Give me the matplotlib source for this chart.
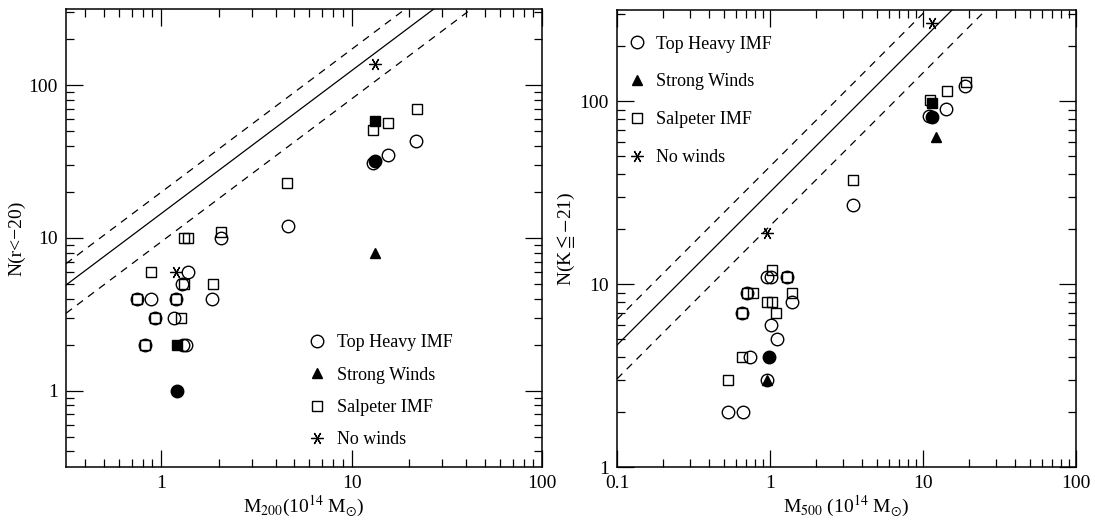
import numpy as np
import matplotlib
matplotlib.use("Agg")
import matplotlib.pyplot as plt
from matplotlib.lines import Line2D
from matplotlib.ticker import FixedLocator, FuncFormatter, LogLocator, NullFormatter

plt.rcParams['font.family'] = ['Liberation Serif', 'DejaVu Serif', 'DejaVu Sans']
plt.rcParams['mathtext.fontset'] = 'stix'

# ---------------- Left panel data: M200 vs N(r<-20) ----------------
L_top_x = [0.75, 0.82, 0.88, 0.93, 1.17, 1.19, 1.28, 1.30, 1.35, 1.39, 1.84, 2.06, 4.65, 13.0, 15.5, 21.8]
L_top_y = [4, 2, 4, 3, 3, 4, 5, 2, 2, 6, 4, 10, 12, 31, 35, 43]
L_salp_x = [0.75, 0.82, 0.88, 0.93, 1.19, 1.27, 1.32, 1.31, 1.39, 1.86, 2.06, 4.6, 13.0, 15.6, 22.0]
L_salp_y = [4, 2, 6, 3, 4, 3, 5, 10, 10, 5, 11, 23, 51, 57, 70]
L_wind_x = [13.3]
L_wind_y = [8]
L_nowind_x = [1.19, 13.3]
L_nowind_y = [6, 138]
L_fcirc_x = [1.21, 13.3]
L_fcirc_y = [1, 32]
L_fsq_x = [1.21, 13.3]
L_fsq_y = [2, 58]

# relation lines (log N = a + b log M), dashed offsets in dex
L_line_a, L_line_b = 1.16, 0.936
R_line_a, R_line_b = 1.504, 0.837
dash_hi, dash_lo = 0.14, -0.185

# ---------------- Right panel data: M500 vs N(K<=-21) ----------------
R_top_x = [0.533, 0.669, 0.740, 0.960, 1.106, 1.01, 0.659, 0.704, 1.386, 0.960, 1.01, 1.285, 3.5, 11.0, 14.1, 18.9]
R_top_y = [2, 2, 4, 3, 5, 6, 7, 9, 8, 11, 11, 11, 27, 83, 91, 121]
R_salp_x = [0.533, 0.659, 0.659, 0.704, 0.771, 0.960, 1.026, 1.095, 1.035, 1.285, 1.386, 3.5, 11.1, 14.3, 19.1]
R_salp_y = [3, 4, 7, 9, 9, 8, 8, 7, 12, 11, 9, 37, 102, 114, 128]
R_wind_x = [0.960, 12.1]
R_wind_y = [3, 64]
R_nowind_x = [0.960, 11.4]
R_nowind_y = [19, 270]
R_fcirc_x = [0.989, 11.5]
R_fcirc_y = [4, 82.5]
R_fsq_x = [11.5]
R_fsq_y = [97.6]

legend_labels = ['Top Heavy IMF', 'Strong Winds', 'Salpeter IMF', 'No winds']

FS = 14
star = (6, 2, 90)

fig = plt.figure(figsize=(10.95, 5.22), dpi=100)
axL = fig.add_axes([66/1095, 55/522, 476/1095, 458/522])
axR = fig.add_axes([617/1095, 55/522, 459/1095, 457/522])


def style_axis(ax, xlim, ylim, xticks, yticks):
    ax.set_xscale('log')
    ax.set_yscale('log')
    ax.set_xlim(*xlim)
    ax.set_ylim(*ylim)
    ax.xaxis.set_major_locator(FixedLocator(xticks))
    ax.yaxis.set_major_locator(FixedLocator(yticks))
    ax.xaxis.set_minor_locator(LogLocator(base=10, subs=np.arange(2, 10)))
    ax.yaxis.set_minor_locator(LogLocator(base=10, subs=np.arange(2, 10)))
    fmt = FuncFormatter(lambda v, p: '%g' % v)
    ax.xaxis.set_major_formatter(fmt)
    ax.yaxis.set_major_formatter(fmt)
    ax.xaxis.set_minor_formatter(NullFormatter())
    ax.yaxis.set_minor_formatter(NullFormatter())
    ax.tick_params(which='both', direction='in', top=True, right=True, width=0.9,
                   labelsize=FS, pad=6)
    ax.tick_params(which='major', length=12)
    ax.tick_params(which='minor', length=6)
    for s in ax.spines.values():
        s.set_linewidth(1.1)


def draw_lines(ax, a, b, xlim):
    xx = np.logspace(np.log10(xlim[0]), np.log10(xlim[1]), 50)
    base = a + b * np.log10(xx)
    ax.plot(xx, 10**base, color='black', lw=0.9)
    ax.plot(xx, 10**(base + dash_hi), color='black', lw=0.9, ls=(0, (6, 5)))
    ax.plot(xx, 10**(base + dash_lo), color='black', lw=0.9, ls=(0, (6, 5)))


def draw_points(ax, top, salp, wind, nowind, fcirc, fsq):
    ax.plot(*salp, ls='none', marker='s', ms=7, mfc='none', mec='black', mew=1.0)
    ax.plot(*top, ls='none', marker='o', ms=9, mfc='none', mec='black', mew=1.0)
    ax.plot(*fsq, ls='none', marker='s', ms=7, mfc='black', mec='black', mew=1.0)
    ax.plot(*fcirc, ls='none', marker='o', ms=9, mfc='black', mec='black', mew=1.0)
    ax.plot(*wind, ls='none', marker='^', ms=6.5, mfc='black', mec='black', mew=1.0)
    ax.plot(*nowind, ls='none', marker=star, ms=9, mec='black', mew=0.9)


handles = [
    Line2D([], [], ls='none', marker='o', ms=9, mfc='none', mec='black', mew=1.0),
    Line2D([], [], ls='none', marker='^', ms=6.5, mfc='black', mec='black', mew=1.0),
    Line2D([], [], ls='none', marker='s', ms=7, mfc='none', mec='black', mew=1.0),
    Line2D([], [], ls='none', marker=star, ms=9, mec='black', mew=0.9),
]

# Left panel
xlimL = (10**-0.5, 100)
style_axis(axL, xlimL, (10**-0.5, 10**2.5), [1, 10, 100], [1, 10, 100])
draw_lines(axL, L_line_a, L_line_b, xlimL)
draw_points(axL, (L_top_x, L_top_y), (L_salp_x, L_salp_y), (L_wind_x, L_wind_y),
            (L_nowind_x, L_nowind_y), (L_fcirc_x, L_fcirc_y), (L_fsq_x, L_fsq_y))
axL.set_xlabel(r'M$_{200}$(10$^{14}$ M$_{\odot}$)', fontsize=FS, labelpad=1)
axL.set_ylabel('N(r<\u221220)', fontsize=FS, labelpad=2)
axL.legend(handles, legend_labels, loc='lower left', bbox_to_anchor=(0.49, 0.025),
           frameon=False, fontsize=FS - 1, handlelength=1.2, handletextpad=0.5,
           labelspacing=0.85, borderaxespad=0)

# Right panel
xlimR = (0.1, 100)
style_axis(axR, xlimR, (1, 10**2.5), [0.1, 1, 10, 100], [1, 10, 100])
draw_lines(axR, R_line_a, R_line_b, xlimR)
draw_points(axR, (R_top_x, R_top_y), (R_salp_x, R_salp_y), (R_wind_x, R_wind_y),
            (R_nowind_x, R_nowind_y), (R_fcirc_x, R_fcirc_y), (R_fsq_x, R_fsq_y))
axR.set_xlabel(r'M$_{500}$ (10$^{14}$ M$_{\odot}$)', fontsize=FS, labelpad=1)
axR.set_ylabel(r'N(K$\leqq$$-$21)', fontsize=FS, labelpad=2)
axR.legend(handles, legend_labels, loc='upper left', bbox_to_anchor=(0.004, 0.96),
           frameon=False, fontsize=FS - 1, handlelength=1.2, handletextpad=0.45,
           labelspacing=1.16, borderaxespad=0)

fig.savefig('out.png', dpi=100)
